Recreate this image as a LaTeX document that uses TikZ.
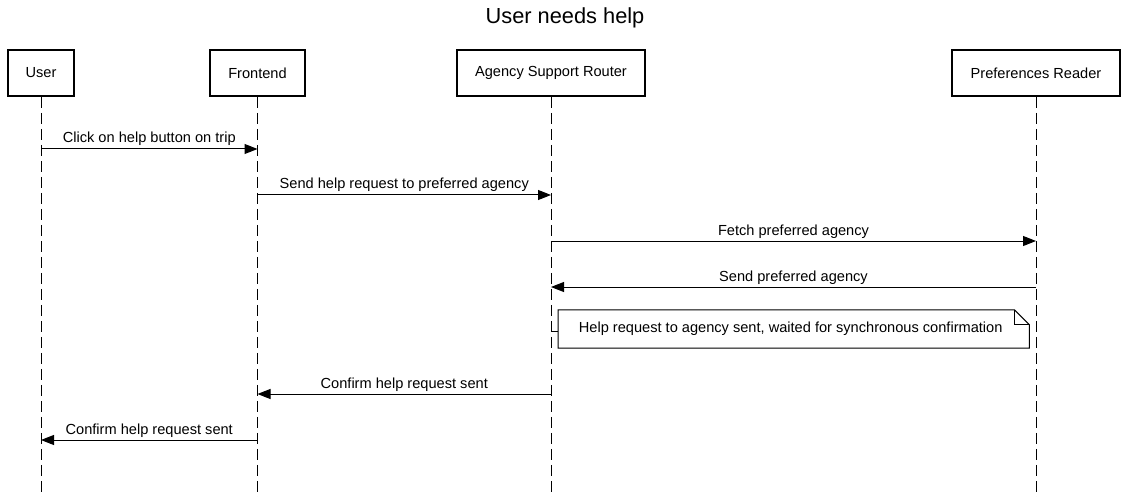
\documentclass[tikz,border=0pt]{standalone}
\usepackage{fontspec}
\setmainfont{Liberation Sans}
\usetikzlibrary{arrows.meta}
\begin{document}
\begin{tikzpicture}[x=1pt,y=-1pt,
  txt/.style={font=\fontsize{14.6}{17}\selectfont},
  actor/.style={draw,line width=1.8pt,minimum height=46pt,inner sep=0pt,txt},
  life/.style={line width=1pt,dash pattern=on 11pt off 5pt},
  msg/.style={line width=1pt,-{Triangle[length=13pt,width=10pt]}},
  lbl/.style={txt,anchor=base,yshift=6pt,inner sep=0pt},
  notebox/.style={line width=1pt,fill=white}
]
\useasboundingbox (0,0) rectangle (1129,497);
\node[font=\fontsize{21.8}{26}\selectfont] (title) at (565,18) {User needs help};

\node[actor,minimum width=66pt] (user) at (41,73) {User};
\node[actor,minimum width=95pt] (front) at (257.5,73) {Frontend};
\node[actor,minimum width=188pt] (router) at (551,73) {Agency Support Router};
\node[actor,minimum width=168pt] (pref) at (1036,73) {Preferences Reader};

\coordinate (userE) at (41,497);
\coordinate (frontE) at (257.5,497);
\coordinate (routerE) at (551,497);
\coordinate (prefE) at (1036,497);
\draw[life] (user.south) -- (userE);
\draw[life] (front.south) -- (frontE);
\draw[life] (router.south) -- (routerE);
\draw[life] (pref.south) -- (prefE);

% message anchor points on lifelines
\coordinate (u1) at (41,149);  \coordinate (f1) at (257.5,149);
\coordinate (f2) at (257.5,195); \coordinate (r2) at (551,195);
\coordinate (r3) at (551,241); \coordinate (p3) at (1036,241);
\coordinate (p4) at (1036,287); \coordinate (r4) at (551,287);
\coordinate (r5) at (551,331);
\coordinate (r6) at (551,394); \coordinate (f6) at (257.5,394);
\coordinate (f7) at (257.5,440); \coordinate (u7) at (41,440);

\draw[msg] (u1) -- node[lbl] {Click on help button on trip} (f1);
\draw[msg] (f2) -- node[lbl] {Send help request to preferred agency} (r2);
\draw[msg] (r3) -- node[lbl] {Fetch preferred agency} (p3);
\draw[msg] (p4) -- node[lbl] {Send preferred agency} (r4);

\node[minimum width=471pt,minimum height=38pt,inner sep=0pt,anchor=west,txt] (note) at (558,329) {};
\draw[notebox] (note.north west) -- ([xshift=-15pt]note.north east) -- ([yshift=-15pt]note.north east) -- (note.south east) -- (note.south west) -- cycle;
\draw[line width=1pt] ([xshift=-15pt]note.north east) |- ([yshift=-15pt]note.north east);
\node[txt,inner sep=0pt] (notetext) at ([xshift=-3pt]note.center) {Help request to agency sent, waited for synchronous confirmation};
\draw[line width=1pt] (r5) -- (note.west |- r5);

\draw[msg] (r6) -- node[lbl] {Confirm help request sent} (f6);
\draw[msg] (f7) -- node[lbl] {Confirm help request sent} (u7);
\end{tikzpicture}
\end{document}
